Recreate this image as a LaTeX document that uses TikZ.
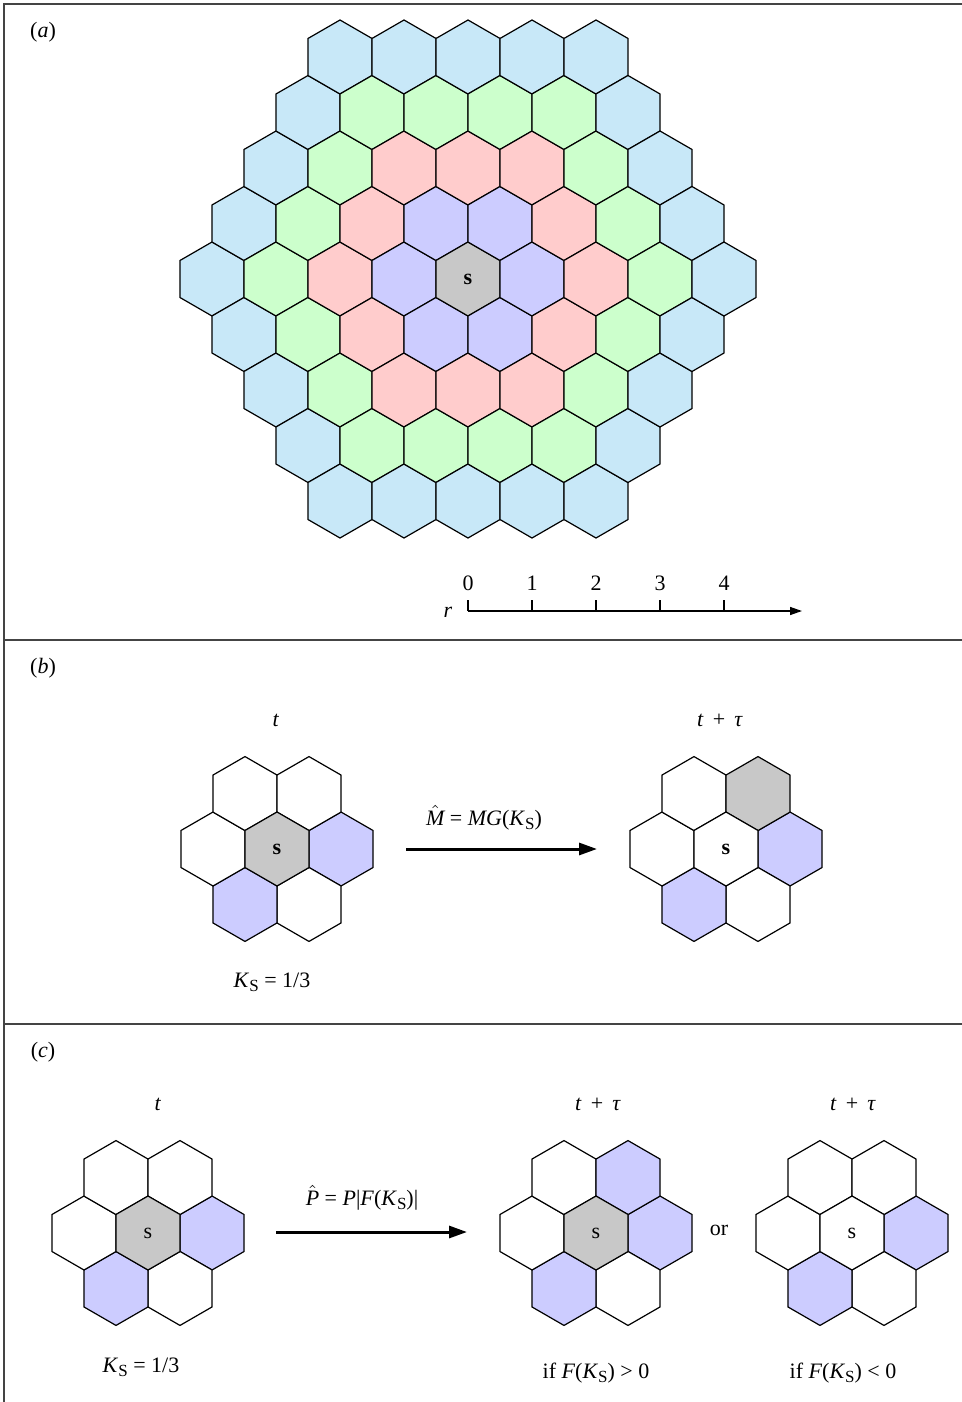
\documentclass[tikz,border=0pt]{standalone}
\usepackage{fontspec}
\setmainfont{Liberation Serif}
\usetikzlibrary{arrows.meta,shapes.geometric}

\definecolor{ring0}{HTML}{C8C8C8}
\definecolor{ring1}{HTML}{CCCCFF}
\definecolor{ring2}{HTML}{FFCCCC}
\definecolor{ring3}{HTML}{CCFFCC}
\definecolor{ring4}{HTML}{C8E8F8}
\definecolor{framegray}{HTML}{444444}

\newcommand{\KS}{\textit{K}\raisebox{-0.4ex}{\fontsize{8.5}{9}\selectfont S}}
\newcommand{\hatit}[1]{$\hat{\mbox{\itshape #1}}$}

\begin{document}
\begin{tikzpicture}[x=0.5pt,y=-0.5pt,
  font=\fontsize{11}{13}\selectfont,
  cell/.style={regular polygon,regular polygon sides=6,shape border rotate=30,draw,line width=0.6pt,
    minimum size=37pt,inner sep=0pt,outer sep=0pt},
  frame/.style={draw=framegray,line width=0.7pt},
  bigarr/.style={-{Triangle[length=9pt,width=6pt]},line width=1.5pt},
  axarr/.style={-{Triangle[length=6pt,width=4pt]},line width=0.7pt}]
\useasboundingbox (0,0) rectangle (962,1402);

% panel frames
\draw[frame] (4,1402) -- (4,4) -- (962,4);
\draw[frame] (4,640) -- (962,640);
\draw[frame] (4,1024) -- (962,1024);
\node (la) at (43,32) {(\textit{a})};
\node (lb) at (43,668) {(\textit{b})};
\node (lc) at (43,1052) {(\textit{c})};

% (a) hexagonal neighbourhood, coloured by ring
\foreach \q in {-4,...,4}{
  \foreach \r in {-4,...,4}{
    \pgfmathtruncatemacro\s{-\q-\r}
    \pgfmathtruncatemacro\ring{max(abs(\q),abs(\r),abs(\s))}
    \ifnum\ring<5
      \node[cell,fill=ring\ring] (h\q\r) at ({468+64*(\q+\r/2)},{279+55.5*\r}) {};
    \fi
  }
}
\node[font=\fontsize{11}{13}\selectfont\bfseries] (sa) at (h00) {s};

% distance axis
\coordinate (ax0) at (468,611);
\coordinate (axend) at (802,611);
\draw[axarr] (ax0) -- (axend);
\foreach \i in {0,...,4}{
  \draw[line width=0.7pt] (468+64*\i,611) -- (468+64*\i,600);
  \node (tk\i) at (468+64*\i,583) {\i};
}
\node (rlab) at (448,612) {\textit{r}};

% (b) majority rule
\coordinate (blc) at (277,849);
\coordinate (brc) at (726,849);
\foreach \a/\f in {0/ring1,60/white,120/ring1,180/white,240/white,300/white}
  \node[cell,fill=\f] (bl\a) at ([shift={(\a:64)}]blc) {};
\node[cell,fill=ring0,font=\fontsize{11}{13}\selectfont\bfseries] (bls) at (blc) {s};
\foreach \a/\f in {0/ring1,60/white,120/ring1,180/white,240/white,300/ring0}
  \node[cell,fill=\f] (br\a) at ([shift={(\a:64)}]brc) {};
\node[cell,fill=white,font=\fontsize{11}{13}\selectfont\bfseries] (brs) at (brc) {s};
\node (bt) at (276,720) {\textit{t}};
\node (btt) at (720,720) {\textit{t}\, + \,\textit{τ}};
\node (bk) at (272,982) {\KS{} = 1/3};
\coordinate (bfrom) at (406,849);
\coordinate (bto) at (597,849);
\draw[bigarr] (bfrom) -- (bto);
\node (bm) at (484,818) {\hatit{M} = \textit{MG}(\KS)};

% (c) proportional rule
\coordinate (clc) at (148,1233);
\coordinate (cmc) at (596,1233);
\coordinate (crc) at (852,1233);
\foreach \a/\f in {0/ring1,60/white,120/ring1,180/white,240/white,300/white}
  \node[cell,fill=\f] (cl\a) at ([shift={(\a:64)}]clc) {};
\node[cell,fill=ring0] (cls) at (clc) {s};
\foreach \a/\f in {0/ring1,60/white,120/ring1,180/white,240/white,300/ring1}
  \node[cell,fill=\f] (cm\a) at ([shift={(\a:64)}]cmc) {};
\node[cell,fill=ring0] (cms) at (cmc) {s};
\foreach \a/\f in {0/ring1,60/white,120/ring1,180/white,240/white,300/white}
  \node[cell,fill=\f] (cr\a) at ([shift={(\a:64)}]crc) {};
\node[cell,fill=white] (crs) at (crc) {s};
\node (ct) at (158,1104) {\textit{t}};
\node (ctm) at (598,1104) {\textit{t}\, + \,\textit{τ}};
\node (ctr) at (853,1104) {\textit{t}\, + \,\textit{τ}};
\node (cor) at (719,1230) {or};
\node (ck) at (141,1367) {\KS{} = 1/3};
\node (cpos) at (596,1373) {if \textit{F}(\KS) > 0};
\node (cneg) at (843,1373) {if \textit{F}(\KS) < 0};
\coordinate (cfrom) at (276,1232);
\coordinate (cto) at (467,1232);
\draw[bigarr] (cfrom) -- (cto);
\node (cp) at (362,1198) {\hatit{P} = \textit{P}|\textit{F}(\KS)|};
\end{tikzpicture}
\end{document}
